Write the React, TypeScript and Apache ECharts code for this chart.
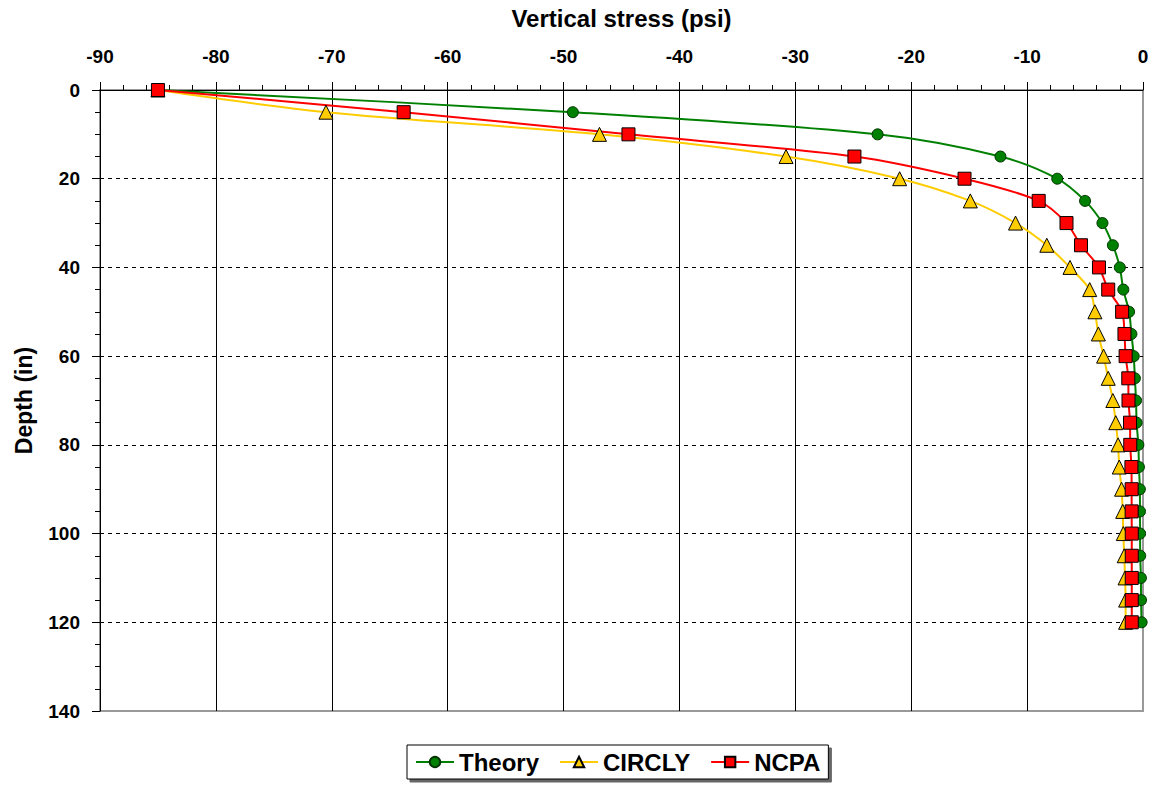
import React, { useEffect, useRef } from "react";
import * as echarts from "echarts";

const depths = [0, 5, 10, 15, 20, 25, 30, 35, 40, 45, 50, 55, 60, 65, 70, 75, 80, 85, 90, 95, 100, 105, 110, 115, 120];
const theory = [-85, -49.2, -22.9, -12.3, -7.4, -5.0, -3.5, -2.6, -2.0, -1.7, -1.2, -1.0, -0.8, -0.7, -0.6, -0.55, -0.4, -0.35, -0.27, -0.26, -0.25, -0.24, -0.18, -0.17, -0.12];
const circly = [-85, -70.5, -46.9, -30.8, -21.0, -14.9, -11.0, -8.3, -6.3, -4.6, -4.15, -3.85, -3.4, -3.0, -2.6, -2.35, -2.15, -2.05, -1.85, -1.75, -1.7, -1.62, -1.55, -1.5, -1.5];
const ncpa = [-85, -63.8, -44.4, -24.9, -15.4, -9.0, -6.6, -5.35, -3.8, -3.0, -1.8, -1.6, -1.5, -1.27, -1.25, -1.12, -1.1, -1.0, -0.98, -0.98, -0.97, -0.97, -0.97, -0.97, -0.97];
const xTicks = { min: -90, max: 0, interval: 10 };
const yTicks = { min: 0, max: 140, interval: 20 };

const font = "'Liberation Sans', Arial, sans-serif";

export default function App() {
  const ref = useRef<HTMLDivElement>(null);
  useEffect(() => {
    document.body.style.margin = "0";
    const chart = echarts.init(ref.current!, null, { renderer: "svg" });
    const pair = (arr: number[]) => arr.map((v, i) => [v, depths[i]]);
    chart.setOption({
      animation: false,
      backgroundColor: "#ffffff",
      textStyle: { fontFamily: font },
      grid: {
        left: 100, right: 13, top: 90, bottom: 77,
        outerBoundsMode: "none", containLabel: false,
        show: true, borderColor: "#999999", borderWidth: 2,
      },
      legend: {
        top: 745,
        left: 407,
        data: ["Theory", "CIRCLY", "NCPA"],
        itemWidth: 38,
        itemHeight: 13,
        itemGap: 20,
        padding: [5, 8, 5, 8],
        borderColor: "#000",
        borderWidth: 1,
        backgroundColor: "#fff",
        shadowColor: "rgba(0,0,0,0.6)",
        shadowOffsetX: 3,
        shadowOffsetY: 3,
        textStyle: { fontFamily: font, fontWeight: "bold", fontSize: 24, color: "#000", padding: [0, 0, 0, 0] },
      },
      xAxis: {
        type: "value",
        position: "top",
        min: xTicks.min,
        max: xTicks.max,
        interval: xTicks.interval,
        name: "Vertical stress (psi)",
        nameLocation: "middle",
        nameGap: 60,
        nameTextStyle: { fontFamily: font, fontWeight: "bold", fontSize: 24, color: "#000" },
        axisLine: { onZero: false, lineStyle: { color: "#000", width: 1 } },
        axisTick: { show: true, length: 8, lineStyle: { color: "#000" } },
        minorTick: { show: true, splitNumber: 5, length: 5, lineStyle: { color: "#000" } },
        axisLabel: { fontFamily: font, fontWeight: "bold", fontSize: 19, color: "#000", margin: 24 },
        splitLine: { show: true, showMinLine: false, showMaxLine: false, lineStyle: { color: "#000", width: 1, type: "solid" } },
      },
      yAxis: {
        type: "value",
        inverse: true,
        min: yTicks.min,
        max: yTicks.max,
        interval: yTicks.interval,
        name: "Depth (in)",
        nameLocation: "middle",
        nameGap: 65,
        nameRotate: 90,
        nameTextStyle: { fontFamily: font, fontWeight: "bold", fontSize: 23, color: "#000" },
        axisLine: { show: true, onZero: false, lineStyle: { color: "#000", width: 1 } },
        axisTick: { show: true, length: 8, lineStyle: { color: "#000" } },
        minorTick: { show: true, splitNumber: 4, length: 5, lineStyle: { color: "#000" } },
        axisLabel: { fontFamily: font, fontWeight: "bold", fontSize: 19, color: "#000", margin: 20 },
        splitLine: { show: true, showMinLine: false, showMaxLine: false, lineStyle: { color: "#000", width: 1, type: [4, 4] } },
      },
      series: [
        {
          name: "Theory",
          type: "line",
          data: pair(theory),
          smooth: 0.3,
          symbol: "circle",
          symbolSize: 11,
          lineStyle: { color: "#008000", width: 2 },
          itemStyle: { color: "#008000", borderColor: "#003300", borderWidth: 1 },
        },
        {
          name: "CIRCLY",
          type: "line",
          data: pair(circly),
          smooth: 0.3,
          symbol: "triangle",
          symbolSize: 14,
          lineStyle: { color: "#FFCC00", width: 2 },
          itemStyle: { color: "#FFCC00", borderColor: "#000", borderWidth: 1 },
        },
        {
          name: "NCPA",
          type: "line",
          data: pair(ncpa),
          smooth: 0.3,
          symbol: "rect",
          symbolSize: 13,
          lineStyle: { color: "#FF0000", width: 2 },
          itemStyle: { color: "#FF0000", borderColor: "#000", borderWidth: 1 },
        },
      ],
    });
    return () => chart.dispose();
  }, []);
  return <div ref={ref} style={{ width: 1156, height: 788 }} />;
}
